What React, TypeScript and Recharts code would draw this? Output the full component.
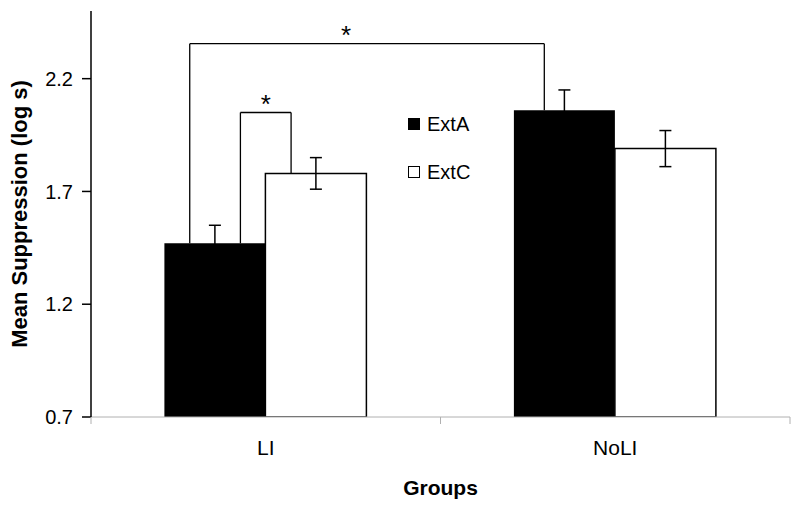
import { BarChart, Bar, XAxis, YAxis, ErrorBar, ReferenceLine, ReferenceDot, Legend } from 'recharts'

const groups = ['LI', 'NoLI']
const extA = [1.47, 2.06]
const extAErr = [0.08, 0.09]
const extC = [1.78, 1.89]
const extCErr = [0.07, 0.08]
const yTicks = [0.7, 1.2, 1.7, 2.2]
const series = ['ExtA', 'ExtC']

// significance brackets: the two bars they join and the height of the crossbar
const brackets = [
  { from: ['LI', 'ExtA'], to: ['LI', 'ExtC'], top: 2.05, mark: '*' },
  { from: ['LI', 'ExtA'], to: ['NoLI', 'ExtA'], top: 2.355, mark: '*' },
]

const data = groups.map((group, i) => ({
  group,
  ExtA: extA[i],
  ExtAErr: extAErr[i],
  ExtC: extC[i],
  ExtCErr: extCErr[i],
}))

const FONT = '"Liberation Sans", Arial, sans-serif'
const CAT_GAP = 0.21
const BAR_W = (1 - 2 * CAT_GAP) / series.length
// where each bracket leg sits on its bar (fraction of bar width from the centre)
const legShift = [
  [0.25, -0.25],
  [-0.25, -0.2],
]
const markShift = [0, -0.06]

// position on the annotation axis, which runs 0..1 across all groups
const toAnn = (u: number) => u / groups.length

const barCenter = (group: string, s: string) =>
  groups.indexOf(group) + CAT_GAP + (series.indexOf(s) + 0.5) * BAR_W

const barValue = (group: string, s: string) =>
  (data.find((d) => d.group === group) as any)[s] as number

const YLabel = (props: any) => {
  const vb = props.viewBox
  const cx = vb.x + 27
  const cy = vb.y + vb.height / 2
  return (
    <text
      x={cx}
      y={cy}
      transform={`rotate(-90 ${cx} ${cy})`}
      textAnchor="middle"
      fontSize={22}
      fontWeight="bold"
      fill="#000"
      fontFamily={FONT}
    >
      Mean Suppression (log s)
    </text>
  )
}

// category label plus small grey ticks on the group boundaries
const GroupTick = (props: any) => {
  const { x, y, payload } = props
  const half = payload && payload.offset ? payload.offset : 0
  return (
    <g>
      {half > 0 && (
        <>
          <line x1={x - half} x2={x - half} y1={y} y2={y + 7} stroke="#b0b0b0" />
          <line x1={x + half} x2={x + half} y1={y} y2={y + 7} stroke="#b0b0b0" />
        </>
      )}
      <text x={x} y={y + 23} dy="0.71em" textAnchor="middle" fontSize={21} fill="#000" fontFamily={FONT}>
        {payload.value}
      </text>
    </g>
  )
}

const Star = (props: any) => {
  const vb = props.viewBox
  return (
    <text x={vb.x} y={vb.y} textAnchor="middle" fontSize={26} fill="#000" fontFamily={FONT}>
      {props.value}
    </text>
  )
}

const renderLegend = ({ payload }: any) => (
  <div style={{ display: 'flex', flexDirection: 'column', gap: 24, fontFamily: FONT }}>
    {(payload || []).map((e: any) => (
      <div key={e.value} style={{ display: 'flex', alignItems: 'center', height: 24 }}>
        <span
          style={{
            display: 'inline-block',
            width: 12,
            height: 12,
            boxSizing: 'border-box',
            background: e.color,
            border: '1.5px solid #000',
            marginRight: 7,
          }}
        />
        <span style={{ fontSize: 20, color: '#000' }}>{e.value}</span>
      </div>
    ))}
  </div>
)

export default function App() {
  return (
    <div style={{ position: 'absolute', left: 0, top: 0, fontFamily: FONT, background: '#fff' }}>
      <BarChart
        width={800}
        height={508}
        data={data}
        margin={{ top: 11, right: 10, bottom: 0, left: 0 }}
        barCategoryGap="21%"
        barGap={0}
      >
        <XAxis xAxisId="ann" type="number" domain={[0, 1]} height={0} hide allowDataOverflow />
        <XAxis
          xAxisId="cat"
          dataKey="group"
          height={91}
          axisLine={{ stroke: '#b0b0b0' }}
          tickLine={false}
          tickSize={0}
          tickMargin={0}
          tick={GroupTick}
          label={{ value: 'Groups', position: 'insideBottom', offset: 13, fontSize: 21, fontWeight: 'bold', fill: '#000' }}
        />
        <YAxis
          domain={[0.7, 2.5]}
          ticks={yTicks}
          width={91}
          tickSize={9}
          tickMargin={9}
          allowDataOverflow
          axisLine={{ stroke: '#000', strokeWidth: 1.5 }}
          tickLine={{ stroke: '#000', strokeWidth: 1.5 }}
          tick={{ fill: '#000', fontSize: 20 }}
          label={{ content: YLabel }}
        />
        <Legend
          layout="vertical"
          align="center"
          verticalAlign="middle"
          content={renderLegend}
          wrapperStyle={{ left: 408, top: 112, width: 'auto' }}
        />
        <Bar xAxisId="cat" dataKey="ExtA" fill="#000" isAnimationActive={false}>
          <ErrorBar dataKey="ExtAErr" width={6} stroke="#000" strokeWidth={1.5} />
        </Bar>
        <Bar xAxisId="cat" dataKey="ExtC" fill="#fff" stroke="#000" strokeWidth={1.5} isAnimationActive={false}>
          <ErrorBar dataKey="ExtCErr" width={6} stroke="#000" strokeWidth={1.5} />
        </Bar>
        {brackets.flatMap((b, i) => {
          const x1 = toAnn(barCenter(b.from[0], b.from[1]) + legShift[i][0] * BAR_W)
          const x2 = toAnn(barCenter(b.to[0], b.to[1]) + legShift[i][1] * BAR_W)
          const y1 = barValue(b.from[0], b.from[1])
          const y2 = barValue(b.to[0], b.to[1])
          const line = { xAxisId: 'ann', stroke: '#000', strokeWidth: 1.3 }
          return [
            <ReferenceLine key={`l${i}`} {...line} segment={[{ x: x1, y: y1 }, { x: x1, y: b.top }]} />,
            <ReferenceLine key={`t${i}`} {...line} segment={[{ x: x1, y: b.top }, { x: x2, y: b.top }]} />,
            <ReferenceLine key={`r${i}`} {...line} segment={[{ x: x2, y: b.top }, { x: x2, y: y2 }]} />,
            <ReferenceDot
              key={`s${i}`}
              xAxisId="ann"
              x={(x1 + x2) / 2 + toAnn(markShift[i])}
              y={b.top}
              r={0}
              fill="none"
              stroke="none"
              label={{ value: b.mark, content: Star }}
            />,
          ]
        })}
      </BarChart>
    </div>
  )
}
